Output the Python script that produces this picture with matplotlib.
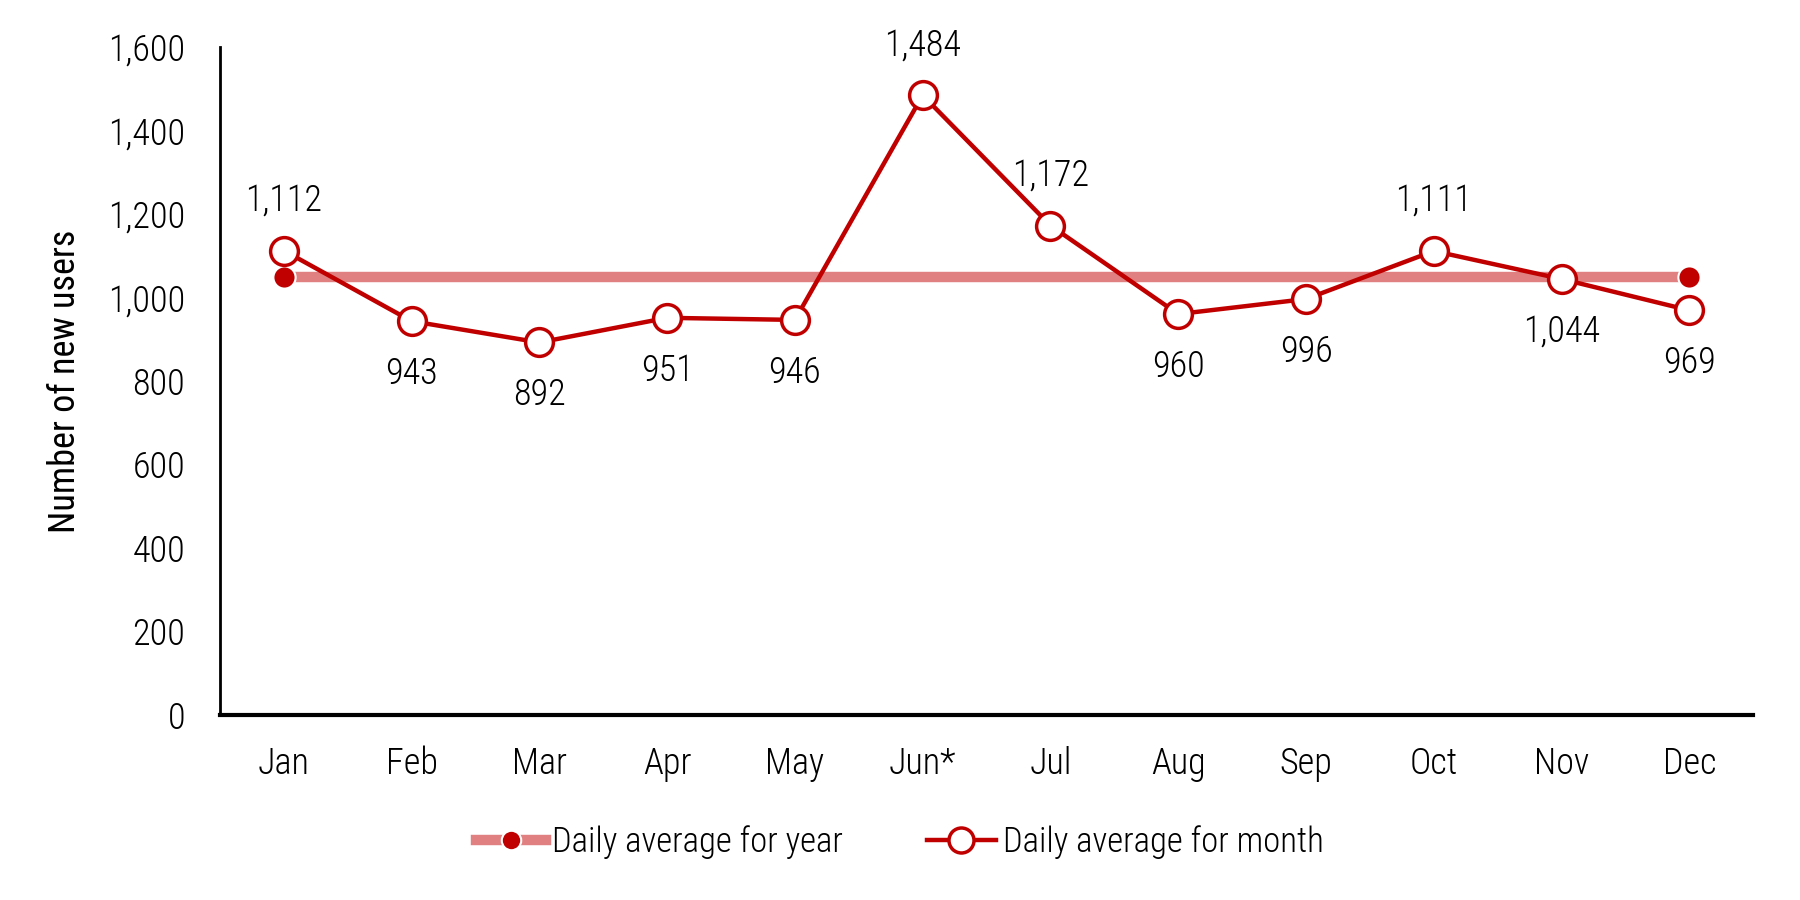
import matplotlib
matplotlib.use("Agg")
import matplotlib.pyplot as plt
from matplotlib.lines import Line2D
from matplotlib import font_manager

names = {f.name for f in font_manager.fontManager.ttflist}
fam = [f for f in ["Liberation Sans Narrow", "Roboto Condensed", "Liberation Sans"] if f in names] + ["DejaVu Sans"]
plt.rcParams['font.family'] = fam
plt.rcParams['font.weight'] = "light"

months = ["Jan", "Feb", "Mar", "Apr", "May", "Jun*", "Jul", "Aug", "Sep", "Oct", "Nov", "Dec"]
monthly = [1112, 943, 892, 951, 946, 1484, 1172, 960, 996, 1111, 1044, 969]
label_above = [True, False, False, False, False, True, True, False, False, True, False, False]
year_avg = sum(monthly) / len(monthly)

dark = "#C00000"
light = "#E08080"

fig = plt.figure(figsize=(18, 9), dpi=100)
ax = fig.add_axes([0.1222, 0.2056, 0.974 - 0.1222, 0.948 - 0.2056])

x = list(range(len(months)))
ax.plot([x[0], x[-1]], [year_avg, year_avg], color=light, lw=7.5, solid_capstyle="butt", zorder=2)
ax.plot([x[0], x[-1]], [year_avg, year_avg], ls="none", marker="o", ms=16,
        mfc=dark, mec="white", mew=1.5, zorder=3)
ax.plot(x, monthly, color=dark, lw=3.2, marker="o", ms=20, mfc="white", mec=dark, mew=2.5, zorder=4)

for xi, v, up in zip(x, monthly, label_above):
    ax.annotate(f"{v:,}", (xi, v), xytext=(0, 36 if up else -38), textcoords="offset points",
                ha="center", va="center", fontsize=26)

ax.set_xlim(-0.5, 11.5)
ax.set_ylim(0, 1600)
ax.set_yticks(range(0, 1601, 200))
ax.set_yticklabels([f"{t:,}" for t in range(0, 1601, 200)])
ax.set_xticks(x)
ax.set_xticklabels(months)
ax.tick_params(axis="both", length=0, labelsize=26)
ax.tick_params(axis="x", pad=22)
ax.tick_params(axis="y", pad=25)
for s in ["top", "right"]:
    ax.spines[s].set_visible(False)
ax.spines["left"].set_linewidth(2)
ax.spines["bottom"].set_linewidth(3)
ax.set_ylabel("Number of new users", fontsize=26, fontweight="normal", labelpad=18)

h1 = Line2D([], [], color=light, lw=7.5, marker="o", ms=14, mfc=dark, mec="white", mew=1.5)
h2 = Line2D([], [], color=dark, lw=3.2, marker="o", ms=18, mfc="white", mec=dark, mew=2.5)
fig.legend([h1, h2], ["Daily average for year", "Daily average for month"],
           loc="center", bbox_to_anchor=(0.5, 1 - 842 / 900), ncol=2, frameon=False,
           fontsize=25, handlelength=2.0, handletextpad=0.2, columnspacing=2.4)

fig.savefig("out.png", dpi=100)
